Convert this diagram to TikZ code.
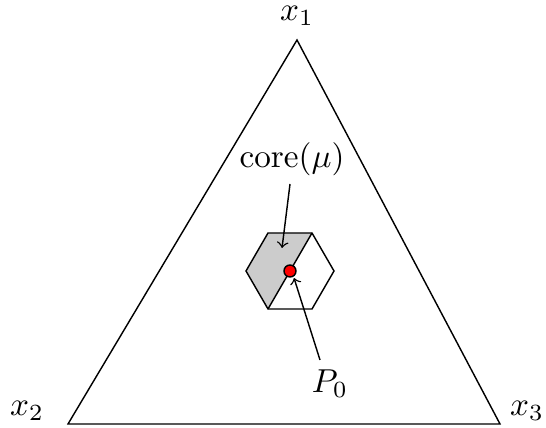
\documentclass[tikz,border=0pt]{standalone}
\begin{document}
\begin{tikzpicture}[x=0.3165pt,y=-0.3165pt,line width=0.45pt,
  lbl/.style={inner sep=0pt,scale=1.05},
  arr/.style={->}]
\useasboundingbox (0,0) rectangle (546,428);
\coordinate (A) at (297,40);
\coordinate (B) at (68,424);
\coordinate (C) at (500,424);
\draw (A) -- (B) -- (C) -- cycle;
% hexagon
\coordinate (O) at (290,271);
\coordinate (H0) at (334,271);
\coordinate (H1) at (312,233);
\coordinate (H2) at (268,233);
\coordinate (H3) at (246,271);
\coordinate (H4) at (268,309);
\coordinate (H5) at (312,309);
\fill[gray!40] (H1) -- (H2) -- (H3) -- (H4) -- cycle;
\draw (H0) -- (H1) -- (H2) -- (H3) -- (H4) -- (H5) -- cycle;
\draw (H1) -- (H4);
\node[lbl] (x1) at (297,16) {$x_1$};
\node[lbl] (x2) at (27,411) {$x_2$};
\node[lbl] (x3) at (527,411) {$x_3$};
\node[lbl] (core) at (292,159) {$\mathrm{core}(\mu)$};
\node[lbl] (P0) at (330,384) {$P_0$};
\coordinate (c1) at (290,184);
\coordinate (c2) at (282,248);
\coordinate (p1) at (320,360);
\coordinate (p2) at (294,278);
\draw[arr] (c1) -- (c2);
\draw[arr] (p1) -- (p2);
\node[circle,draw,fill=red,inner sep=0pt,minimum size=12*0.3165pt] (P) at (O) {};
\end{tikzpicture}
\end{document}
